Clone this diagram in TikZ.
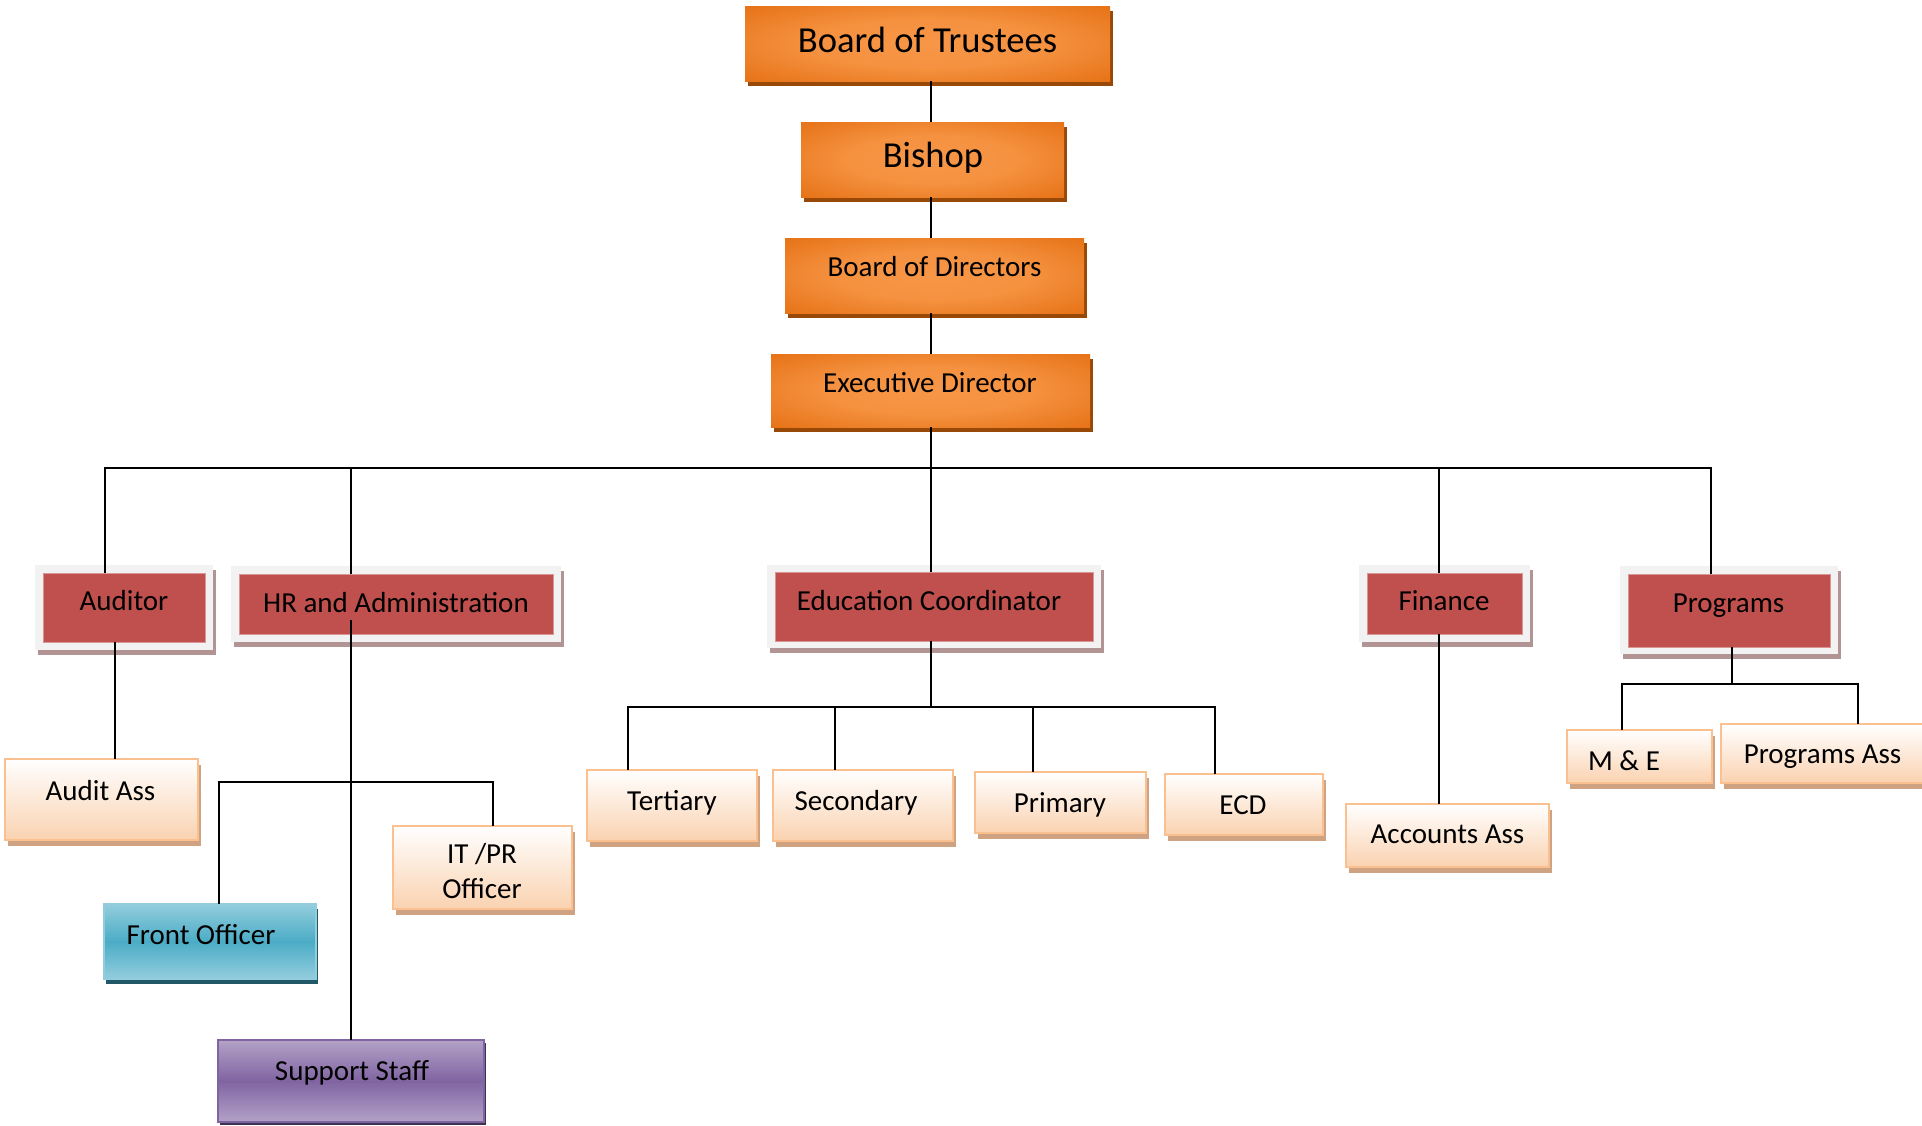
\documentclass[tikz,border=0pt]{standalone}
\usepackage{fontspec}
\setmainfont{Carlito}
\usetikzlibrary{calc}

\definecolor{oshad}{RGB}{152,72,7}
\definecolor{redfill}{RGB}{192,80,77}
\definecolor{redline}{RGB}{217,150,148}
\definecolor{redframe}{RGB}{242,242,242}
\definecolor{redshad}{RGB}{178,148,148}
\definecolor{peachline}{RGB}{250,192,144}
\definecolor{peachbot}{RGB}{250,210,176}
\definecolor{peachshad}{RGB}{207,163,130}
\definecolor{tealL}{RGB}{147,205,221}
\definecolor{tealM}{RGB}{75,172,198}
\definecolor{tealshad}{RGB}{33,89,104}
\definecolor{purL}{RGB}{179,162,199}
\definecolor{purM}{RGB}{128,100,162}
\definecolor{purline}{RGB}{128,100,162}
\definecolor{purshad}{RGB}{63,49,81}

\pgfdeclareradialshading{orglow}{\pgfpoint{0bp}{0bp}}{rgb(0bp)=(0.97,0.59,0.28); rgb(16bp)=(0.96,0.57,0.25); rgb(40bp)=(0.89,0.42,0.05); rgb(50bp)=(0.88,0.41,0.04)}

\newcommand\fbig{\fontsize{18.3}{22}\selectfont}
\newcommand\fmid{\fontsize{14.5}{17.5}\selectfont}

% name, node style, shadow style, x1, y1, x2, y2
\newcommand\plainbox[7]{%
  \fill[#3] (#4,#5) rectangle (#6,#7);
  \node[#2, minimum width={(#6-#4)*0.5pt}, minimum height={(#7-#5)*0.5pt}] (#1) at ({(#4+#6)/2},{(#5+#7)/2}) {};
}
% name, outer x1,y1,x2,y2, inner x1,y1,x2,y2
\newcommand\redbox[9]{%
  \fill[redshadow] (#2,#3) rectangle (#4,#5);
  \fill[redframe] (#2,#3) rectangle (#4,#5);
  \node[redbox, minimum width={(#8-#6)*0.5pt}, minimum height={(#9-#7)*0.5pt}] (#1) at ({(#6+#8)/2},{(#7+#9)/2}) {};
}

\tikzset{
  conn/.style={draw=black, line width=1pt},
  obox/.style={shade, shading=orglow, draw=none, inner sep=0pt, outer sep=0pt},
  oshadow/.style={fill=oshad, xshift=1.5pt, yshift=-2.5pt},
  redbox/.style={fill=redfill, draw=redline, line width=0.5pt, inner sep=0pt, outer sep=0pt},
  redshadow/.style={fill=redshad, xshift=1.5pt, yshift=-2.5pt},
  pbox/.style={top color=white, bottom color=peachbot, draw=peachline, line width=1pt, inner sep=0pt, outer sep=0pt},
  pshadow/.style={fill=peachshad, xshift=1.5pt, yshift=-3pt},
  tbox/.style={top color=tealL, bottom color=tealL, middle color=tealM, draw=tealL, line width=1pt, inner sep=0pt, outer sep=0pt},
  tshadow/.style={fill=tealshad, xshift=1pt, yshift=-2.5pt},
  ubox/.style={top color=purL, bottom color=purL, middle color=purM, draw=purline, line width=1pt, inner sep=0pt, outer sep=0pt},
  ushadow/.style={fill=purshad, xshift=1pt, yshift=-1.5pt},
  txt/.style={anchor=base, inner sep=0pt, font=\fmid, text=black},
  bigtxt/.style={anchor=base, inner sep=0pt, font=\fbig, text=black},
}

\begin{document}
\begin{tikzpicture}[x=0.5pt, y=-0.5pt]
\useasboundingbox (0,0) rectangle (1922,1125);
\clip (0,0) rectangle (1922,1125);

% ---------- top chain ----------
\plainbox{bot}{obox}{oshadow}{745}{6}{1110}{81}
\plainbox{bishop}{obox}{oshadow}{801}{122}{1064}{197}
\plainbox{bod}{obox}{oshadow}{785}{238}{1084}{313}
\plainbox{ed}{obox}{oshadow}{771}{354}{1090}{427}

% ---------- second level ----------
\redbox{aud}{35}{565}{213}{650}{43}{573}{205}{642}
\redbox{hr}{231}{566}{561}{642}{239}{574}{553}{634}
\redbox{edu}{767}{565}{1101}{648}{775}{572}{1093}{641}
\redbox{fin}{1359}{565}{1530}{642}{1367}{573}{1522}{634}
\redbox{prog}{1620}{566}{1838}{654}{1628}{574}{1830}{647}

% ---------- third level ----------
\plainbox{auda}{pbox}{pshadow}{5}{759}{198}{840}
\plainbox{itpr}{pbox}{pshadow}{393}{826}{572}{909}
\plainbox{front}{tbox}{tshadow}{104}{904}{316}{979}
\plainbox{supp}{ubox}{ushadow}{218}{1040}{484}{1122}
\plainbox{ter}{pbox}{pshadow}{587}{770}{757}{841}
\plainbox{sec}{pbox}{pshadow}{773}{770}{953}{841}
\plainbox{pri}{pbox}{pshadow}{975}{772}{1146}{833}
\plainbox{ecd}{pbox}{pshadow}{1165}{774}{1323}{835}
\plainbox{acc}{pbox}{pshadow}{1346}{804}{1549}{867}
\plainbox{me}{pbox}{pshadow}{1567}{730}{1712}{783}
\plainbox{pass}{pbox}{pshadow}{1721}{724}{1940}{783}

% ---------- texts ----------
\node[bigtxt] (t-bot) at (927.5,52) {Board of Trustees};
\node[bigtxt] (t-bishop) at (933,167) {Bishop};
\node[txt] (t-bod) at (934.5,276) {Board of Directors};
\node[txt] (t-ed) at (930,392) {Executive Director};
\node[txt] (t-aud) at (124,610) {Auditor};
\node[txt] (t-hr) at (396,612) {HR and Administration};
\node[txt] (t-edu) at (929,610) {Education Coordinator};
\node[txt] (t-fin) at (1444,610) {Finance};
\node[txt] (t-prog) at (1728.5,612) {Programs};
\node[txt] (t-auda) at (100.5,800) {Audit Ass};
\node[txt] (t-itpr1) at (482,863) {IT /PR};
\node[txt] (t-itpr2) at (482,898) {Officer};
\node[txt] (t-front) at (201,944) {Front Officer};
\node[txt] (t-supp) at (352,1080) {Support Staff};
\node[txt] (t-ter) at (672,810) {Tertiary};
\node[txt] (t-sec) at (856,810) {Secondary};
\node[txt] (t-pri) at (1060,812) {Primary};
\node[txt] (t-ecd) at (1243,814) {ECD};
\node[txt] (t-acc) at (1447.5,843) {Accounts Ass};
\node[txt] (t-me) at (1624,770) {M \& E};
\node[txt] (t-pass) at (1822.5,763) {Programs Ass};

% ---------- connector coordinates ----------
\coordinate (spine) at (931,0);
\coordinate (busL) at (105,468);
\coordinate (busR) at (1711,468);
\coordinate (hrx) at (351,468);
\coordinate (finx) at (1439,468);
\coordinate (audx) at (115,0);
\coordinate (hrcut) at (351,620);
\coordinate (hfL) at (219,782);
\coordinate (hfR) at (493,782);
\coordinate (eduL) at (628,707);
\coordinate (eduR) at (1215,707);
\coordinate (secx) at (835,707);
\coordinate (prix) at (1033,707);
\coordinate (progx) at (1732,0);
\coordinate (pL) at (1622,684);
\coordinate (pR) at (1858,684);

% ---------- connectors ----------
\draw[conn] (bot.south -| spine) -- (bishop.north -| spine);
\draw[conn] (bishop.south -| spine) -- (bod.north -| spine);
\draw[conn] (bod.south -| spine) -- (ed.north -| spine);
\draw[conn] (ed.south -| spine) -- (edu.north -| spine);
\draw[conn] (aud.north -| busL) -- (busL) -- (busR) -- (prog.north -| busR);
\draw[conn] (hr.north -| hrx) -- (hrx);
\draw[conn] (fin.north -| finx) -- (finx);
\draw[conn] (aud.south -| audx) -- (auda.north -| audx);
\draw[conn] (hrcut) -- (supp.north -| hrcut);
\draw[conn] (front.north -| hfL) -- (hfL) -- (hfR) -- (itpr.north -| hfR);
\draw[conn] (edu.south -| spine) -- (spine |- eduL);
\draw[conn] (ter.north -| eduL) -- (eduL) -- (eduR) -- (ecd.north -| eduR);
\draw[conn] (sec.north -| secx) -- (secx);
\draw[conn] (pri.north -| prix) -- (prix);
\draw[conn] (fin.south -| finx) -- (acc.north -| finx);
\draw[conn] (prog.south -| progx) -- (progx |- pL);
\draw[conn] (me.north -| pL) -- (pL) -- (pR) -- (pass.north -| pR);
\end{tikzpicture}
\end{document}
